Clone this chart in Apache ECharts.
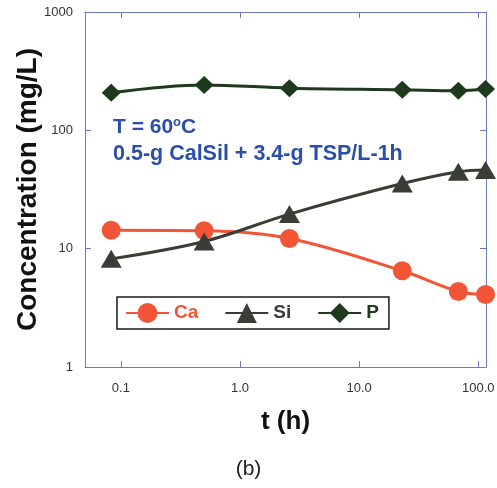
<!DOCTYPE html>
<html>
<head>
<meta charset="utf-8">
<script src="https://cdn.jsdelivr.net/npm/echarts@6/dist/echarts.min.js"></script>
<style>
  html, body { margin: 0; padding: 0; background: #ffffff; }
  #chart { width: 497px; height: 488px; }
</style>
</head>
<body>
<div id="chart"></div>
<script>
// Leaching time (h) and measured concentrations (mg/L)
const hours = [0.083, 0.5, 2.6, 23, 68, 115];
const caValues = [14.3, 14.2, 12.2, 6.5, 4.35, 4.1];
const siValues = [8.2, 11.5, 19.6, 35.5, 44.7, 46.3];
const pValues = [208, 242, 227, 220, 216, 223];

const xTicks = [0.1, 1, 10, 100];
const yTicks = [1, 10, 100, 1000];

const FONT = '"Liberation Sans", Arial, sans-serif';
const AXIS_BLUE = '#6c79c4';
const CA_COLOR = '#f25536';
const SI_COLOR = '#3a3d36';
const P_COLOR = '#1d3a1d';
const NOTE_BLUE = '#2b4fa8';

const pairs = (xs, ys) => xs.map((x, i) => [x, ys[i]]);

const frameAxisLine = { show: true, lineStyle: { color: AXIS_BLUE, width: 1 } };
const frameTick = { show: true, inside: true, length: 6, lineStyle: { color: AXIS_BLUE, width: 1 } };

const chart = echarts.init(document.getElementById('chart'), null, { renderer: 'canvas' });

chart.setOption({
  backgroundColor: '#ffffff',
  animation: false,
  grid: { left: 85, right: 11, top: 12, bottom: 121, containLabel: false, outerBoundsMode: 'none' },
  xAxis: [
    {
      type: 'log', logBase: 10, min: 0.05, max: 116,
      axisLine: frameAxisLine,
      axisTick: Object.assign({ customValues: xTicks }, frameTick),
      splitLine: { show: false },
      minorTick: { show: false },
      axisLabel: {
        customValues: xTicks,
        margin: 15,
        color: '#333333',
        fontFamily: FONT,
        fontSize: 13,
        formatter: v => Number(v).toFixed(1)
      },
      name: 't (h)',
      nameLocation: 'middle',
      nameGap: 42,
      nameTextStyle: { fontFamily: FONT, fontSize: 26, fontWeight: 'bold', color: '#111111' }
    },
    {
      type: 'log', logBase: 10, min: 0.05, max: 116, position: 'top',
      axisLine: frameAxisLine,
      axisTick: Object.assign({ customValues: xTicks }, frameTick),
      axisLabel: { show: false },
      splitLine: { show: false }
    }
  ],
  yAxis: [
    {
      type: 'log', logBase: 10, min: 1, max: 1000,
      axisLine: frameAxisLine,
      axisTick: Object.assign({ customValues: yTicks }, frameTick),
      splitLine: { show: false },
      axisLabel: {
        customValues: yTicks,
        margin: 12,
        color: '#333333',
        fontFamily: FONT,
        fontSize: 13,
        formatter: v => String(Math.round(v))
      },
      name: 'Concentration (mg/L)',
      nameLocation: 'middle',
      nameGap: 43,
      nameMoveOverlap: false,
      nameTextStyle: { fontFamily: FONT, fontSize: 28, fontWeight: 'bold', color: '#111111' }
    },
    {
      type: 'log', logBase: 10, min: 1, max: 1000, position: 'right',
      axisLine: frameAxisLine,
      axisTick: Object.assign({ customValues: yTicks }, frameTick),
      axisLabel: { show: false },
      splitLine: { show: false }
    }
  ],
  legend: {
    left: 117,
    top: 297,
    orient: 'horizontal',
    itemWidth: 43,
    itemHeight: 25,
    itemGap: 26,
    padding: [6, 10, 6, 8],
    borderColor: '#1a1a1a',
    borderWidth: 1.5,
    backgroundColor: '#ffffff',
    textStyle: { fontFamily: FONT, fontSize: 19, fontWeight: 'bold' },
    data: [
      { name: 'Ca', textStyle: { color: CA_COLOR } },
      { name: 'Si', textStyle: { color: SI_COLOR } },
      { name: 'P', textStyle: { color: P_COLOR } }
    ]
  },
  graphic: [
    {
      type: 'text', left: 113, top: 116, z: 10,
      style: {
        text: '{a|T = 60}{s|o}{a|C}',
        rich: {
          a: { fontFamily: FONT, fontSize: 21, fontWeight: 'bold', fill: NOTE_BLUE, lineHeight: 22 },
          s: { fontFamily: FONT, fontSize: 13, fontWeight: 'bold', fill: NOTE_BLUE, verticalAlign: 'top', lineHeight: 22 }
        }
      }
    },
    {
      type: 'text', left: 113, top: 143, z: 10,
      style: {
        text: '0.5-g CalSil + 3.4-g TSP/L-1h',
        fontFamily: FONT, fontSize: 21.5, fontWeight: 'bold', fill: NOTE_BLUE
      }
    },
    {
      type: 'text', left: 'center', top: 459, z: 10,
      style: { text: '(b)', fontFamily: FONT, fontSize: 21, fill: '#222222' }
    }
  ],
  series: [
    {
      name: 'Ca', type: 'line', data: pairs(hours, caValues),
      smooth: 0.35, clip: false,
      symbol: 'circle', symbolSize: 19,
      lineStyle: { color: CA_COLOR, width: 3 },
      itemStyle: { color: CA_COLOR }
    },
    {
      name: 'Si', type: 'line', data: pairs(hours, siValues),
      smooth: 0.35, clip: false,
      symbol: 'triangle', symbolSize: [21, 18],
      lineStyle: { color: SI_COLOR, width: 3 },
      itemStyle: { color: SI_COLOR }
    },
    {
      name: 'P', type: 'line', data: pairs(hours, pValues),
      smooth: 0.35, clip: false,
      symbol: 'diamond', symbolSize: [19, 18],
      lineStyle: { color: P_COLOR, width: 3 },
      itemStyle: { color: P_COLOR }
    }
  ]
});
</script>
</body>
</html>
